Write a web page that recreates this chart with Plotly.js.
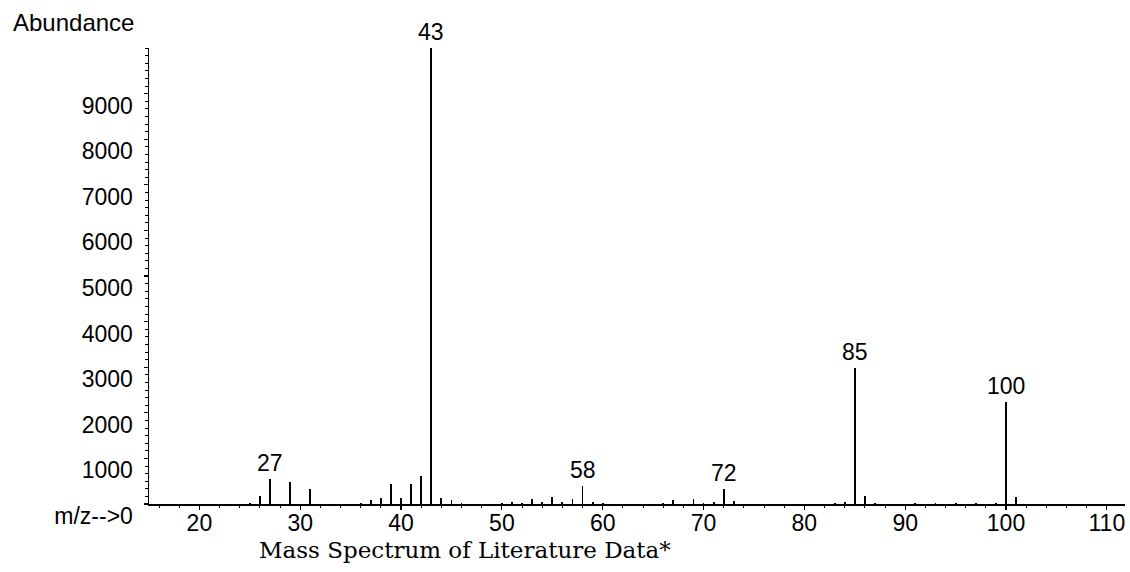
<!DOCTYPE html>
<html>
<head>
<meta charset="utf-8">
<script src="https://cdn.plot.ly/plotly-3.0.1.min.js"></script>
<style>html,body{margin:0;padding:0;background:#fff;}#chart{width:1130px;height:572px;}</style>
</head>
<body>
<div id="chart"></div>
<script>
// m/z values and abundances
var mz        = [25, 26, 27, 29, 31, 36, 37, 38, 39, 40, 41, 42, 43, 44, 45, 46, 50, 51, 52, 53, 54, 55, 56, 57, 58, 59, 60, 66, 67, 69, 70, 71, 72, 73, 83, 84, 85, 86, 87, 91, 93, 95, 97, 99, 100, 101];
var abundance = [30, 175, 555, 482, 335, 30, 88, 138, 445, 132, 432, 614, 10000, 138, 88, 25, 25, 35, 30, 100, 50, 150, 40, 110, 395, 40, 20, 25, 90, 120, 25, 40, 335, 60, 30, 40, 2980, 175, 30, 20, 20, 20, 20, 25, 2237, 160];
var labeledPeaks = [27, 43, 58, 72, 85, 100];
var yTickVals = [0, 1000, 2000, 3000, 4000, 5000, 6000, 7000, 8000, 9000];
var yTickText = ["m/z-->0", "1000", "2000", "3000", "4000", "5000", "6000", "7000", "8000", "9000"];
var xTickVals = [20, 30, 40, 50, 60, 70, 80, 90, 100, 110];

var sans = 'Liberation Sans, Arial, sans-serif';
var annotations = labeledPeaks.map(function (m) {
  var v = abundance[mz.indexOf(m)];
  return {x: m, y: v, xref: 'x', yref: 'y', text: String(m), showarrow: false,
          xanchor: 'center', yanchor: 'bottom', yshift: 1,
          font: {family: sans, size: 23, color: '#000'}};
});
annotations.push({xref: 'paper', yref: 'paper', x: -0.141, y: 1.057, xanchor: 'left', yanchor: 'middle',
  text: 'Abundance', showarrow: false,
  font: {family: sans, size: 24, color: '#000'}});
annotations.push({xref: 'paper', yref: 'paper', x: 0.324, y: -0.101, xanchor: 'center', yanchor: 'middle',
  text: 'Mass Spectrum of Literature Data*', showarrow: false,
  font: {family: 'DejaVu Serif, serif', size: 23, color: '#000'}});

var trace = {
  type: 'bar', x: mz, y: abundance, width: 0.18,
  marker: {color: '#000', line: {width: 0}}, hoverinfo: 'x+y'
};

var layout = {
  width: 1130, height: 572,
  margin: {l: 149, r: 5, t: 48, b: 68},
  paper_bgcolor: '#fff', plot_bgcolor: '#fff',
  showlegend: false,
  bargap: 0,
  font: {family: sans, size: 23, color: '#000'},
  xaxis: {
    range: [15, 111.8], tickvals: xTickVals, ticktext: xTickVals.map(String),
    ticks: 'outside', ticklen: 4, tickwidth: 1.2, tickcolor: '#000',
    minor: {dtick: 2, tick0: 0, ticks: 'outside', ticklen: 2, tickwidth: 1, tickcolor: '#000', showgrid: false},
    ticklabelstandoff: -6,
    showline: true, linecolor: '#000', linewidth: 1.5,
    showgrid: false, zeroline: false,
    tickfont: {family: sans, size: 23, color: '#000'}
  },
  yaxis: {
    range: [0, 10000], tickvals: yTickVals, ticktext: yTickText,
    ticks: 'outside', ticklen: 4, tickwidth: 1.2, tickcolor: '#000',
    minor: {dtick: 1000 / 6, tick0: 0, ticks: 'outside', ticklen: 3, tickwidth: 1, tickcolor: '#000', showgrid: false},
    ticklabelshift: 12, ticklabelstandoff: 6,
    showline: true, linecolor: '#000', linewidth: 1.5,
    showgrid: false, zeroline: false,
    tickfont: {family: sans, size: 23, color: '#000'}
  },
  annotations: annotations
};

Plotly.newPlot('chart', [trace], layout, {displayModeBar: false, staticPlot: true});
</script>
</body>
</html>
